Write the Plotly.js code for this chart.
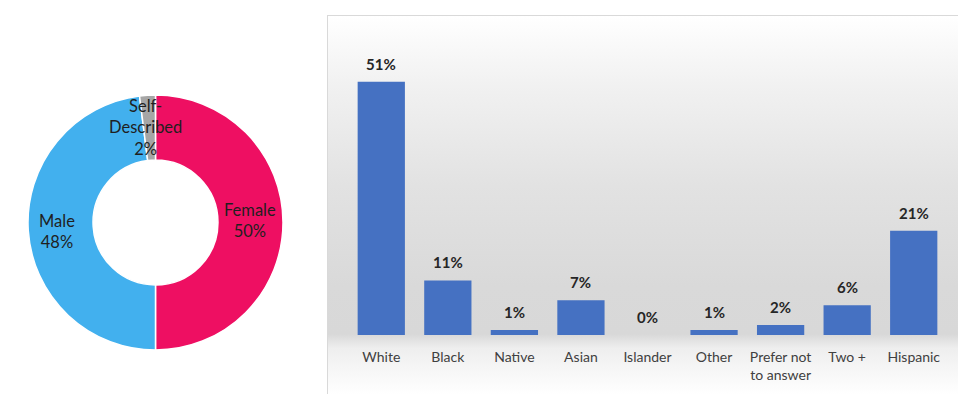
<!DOCTYPE html>
<html>
<head>
<meta charset="utf-8">
<script src="https://cdn.plot.ly/plotly-3.0.1.min.js"></script>
<style>
  html, body { margin: 0; padding: 0; background: #ffffff; }
  #wrap { position: relative; width: 958px; height: 394px; overflow: hidden; }
  #bg {
    position: absolute; left: 327px; top: 15px; width: 640px; height: 390px;
    border-top: 1px solid #d9d9d9; border-left: 1px solid #d9d9d9;
    background: linear-gradient(to bottom, #ffffff 0px, #f1f1f1 70px, #e2e2e2 170px, #d9d9d9 270px, #d8d8d8 318px, #eeeeee 332px, #f5f5f5 350px, #ffffff 379px);
  }
  #chart { position: absolute; left: 0; top: 0; width: 958px; height: 394px; }
</style>
</head>
<body>
<div id="wrap">
  <div id="bg"></div>
  <div id="chart"></div>
</div>
<script>
// Gender donut data
const genderLabels = ['Female', 'Male', 'Self-Described'];
const genderValues = [50, 48, 2];
const genderText = ['Female<br>50%', 'Male<br>48%', 'Self-<br>Described<br>2%'];
const genderColors = ['#EE0F62', '#42B0EE', '#A6A6A6'];

// Race / ethnicity bar data
const raceCategories = ['White', 'Black', 'Native', 'Asian', 'Islander', 'Other', 'Prefer not<br>to answer', 'Two +', 'Hispanic'];
const raceValues = [51, 11, 1, 7, 0, 1, 2, 6, 21];

const W = 958, H = 394;
const px = x => x / W;
const py = y => 1 - y / H;
const FONT = 'Lato, "Open Sans", sans-serif';

const pie = {
  type: 'pie',
  labels: genderLabels,
  values: genderValues,
  sort: false,
  direction: 'clockwise',
  rotation: 0,
  hole: 0.49,
  textinfo: 'none',
  hoverinfo: 'label+percent',
  marker: { colors: genderColors, line: { color: '#ffffff', width: 1.5 } },
  domain: { x: [px(28), px(283)], y: [py(350), py(95)] },
  showlegend: false
};

const bar = {
  type: 'bar',
  x: raceCategories,
  y: raceValues,
  marker: { color: '#4571C2', line: { width: 0 } },
  hoverinfo: 'x+y',
  showlegend: false,
  xaxis: 'x', yaxis: 'y'
};

const annotations = [];
// Donut labels
const pieLabelPos = [[250, 221], [57, 231], [145, 127]];
genderText.forEach((t, i) => {
  annotations.push({
    xref: 'paper', yref: 'paper',
    x: px(pieLabelPos[i][0]), y: py(pieLabelPos[i][1]),
    xanchor: 'center', yanchor: 'middle',
    text: t, showarrow: false,
    font: { family: FONT, size: 16.5, color: '#1f1f1f' }
  });
});
// Bar value labels
raceCategories.forEach((c, i) => {
  annotations.push({
    xref: 'x', yref: 'y',
    x: c, y: raceValues[i],
    xanchor: 'center', yanchor: 'bottom', yshift: 7,
    text: '<b>' + raceValues[i] + '%</b>', showarrow: false,
    font: { family: FONT, size: 15, color: '#262626' }
  });
});

const layout = {
  width: W, height: H,
  margin: { l: 0, r: 0, t: 0, b: 0 },
  paper_bgcolor: 'rgba(0,0,0,0)',
  plot_bgcolor: 'rgba(0,0,0,0)',
  bargap: 0.29,
  xaxis: {
    domain: [px(348), px(947)],
    type: 'category',
    showgrid: false, zeroline: false, showline: false,
    ticks: '', ticklabelstandoff: 12,
    tickfont: { family: FONT, size: 14, color: '#404040' },
    fixedrange: true
  },
  yaxis: {
    domain: [py(335), py(62)],
    range: [0, 55],
    visible: false,
    fixedrange: true
  },
  annotations: annotations,
  showlegend: false
};

Plotly.newPlot('chart', [pie, bar], layout, { displayModeBar: false, staticPlot: true });
</script>
</body>
</html>
